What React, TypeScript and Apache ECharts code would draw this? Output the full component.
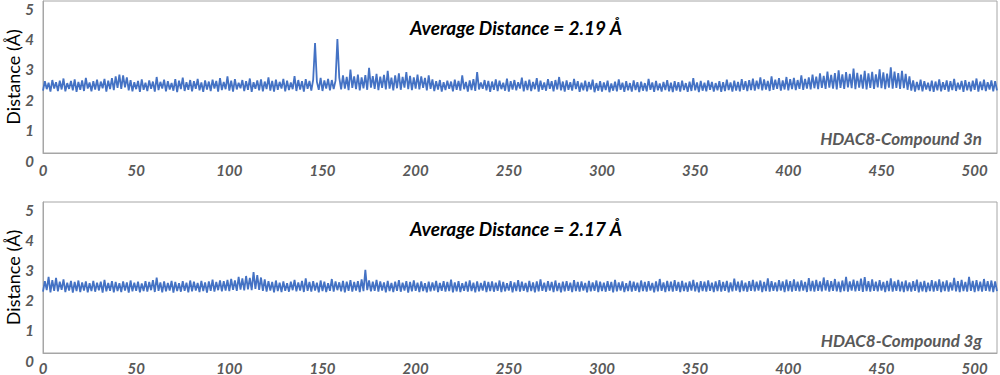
import React, { useEffect, useRef } from "react";
import * as echarts from "echarts";

// Time axis (ns) tick settings
const xTicks = [0, 50, 100, 150, 200, 250, 300, 350, 400, 450, 500];
const yTicks = [0, 1, 2, 3, 4, 5];

const panelTitles = ["Average Distance = 2.19 Å", "Average Distance = 2.17 Å"];
const panelLabels = ["HDAC8-Compound 3n", "HDAC8-Compound 3g"];

// HDAC8-Compound 3n distance (Å), one value per ns
const top000 = [2.05,2.36,2.10,2.31,2.02,2.40,2.12,2.33,2.04,2.38,2.09,2.45,2.03,2.30,2.11,2.37,2.06,2.42,2.01,2.34,
  2.08,2.39,2.04,2.47,2.12,2.32,2.03,2.36,2.09,2.41,2.05,2.35,2.13,2.44,2.02,2.38,2.10,2.46,2.07,2.52,
  2.14,2.58,2.11,2.55,2.16,2.49,2.06,2.40,2.03,2.33,2.10,2.37,2.01,2.42,2.08,2.31,2.04,2.39,2.11,2.35,
  2.02,2.50,2.07,2.34,2.12,2.41,2.03,2.36,2.09,2.30,2.05,2.43,2.00,2.38,2.10,2.48,2.04,2.33,2.08,2.40,
  2.03,2.36,2.11,2.44,2.06,2.32,2.01,2.39,2.09,2.35,2.04,2.41,2.12,2.37,2.02,2.46,2.07,2.34,2.10,2.52];
const top100 = [2.05,2.38,2.02,2.43,2.09,2.31,2.13,2.40,2.04,2.36,2.08,2.45,2.01,2.33,2.11,2.39,2.06,2.42,2.03,2.35,
  2.10,2.49,2.05,2.37,2.02,2.41,2.08,2.34,2.12,2.44,2.03,2.38,2.07,2.32,2.10,2.53,2.04,2.40,2.09,2.36,
  2.02,2.43,2.11,2.37,2.05,2.41,3.62,2.34,2.08,2.47,2.04,2.39,2.12,2.44,2.06,2.40,2.10,2.38,3.75,2.48,
  2.09,2.55,2.12,2.50,2.07,2.74,2.14,2.52,2.10,2.58,2.06,2.49,2.13,2.56,2.08,2.80,2.15,2.53,2.11,2.60,
  2.07,2.51,2.14,2.57,2.09,2.70,2.12,2.48,2.06,2.55,2.13,2.62,2.08,2.50,2.15,2.66,2.10,2.54,2.07,2.49];
const top200 = [2.12,2.58,2.09,2.52,2.14,2.47,2.06,2.55,2.11,2.42,2.04,2.36,2.09,2.40,2.02,2.33,2.07,2.38,2.11,2.35,
  2.03,2.41,2.08,2.37,2.05,2.55,2.10,2.34,2.02,2.39,2.07,2.43,2.04,2.66,2.09,2.32,2.11,2.40,2.06,2.37,
  2.01,2.35,2.08,2.42,2.04,2.38,2.10,2.31,2.05,2.45,2.02,2.36,2.09,2.40,2.06,2.33,2.12,2.48,2.03,2.37,
  2.07,2.41,2.04,2.34,2.10,2.46,2.02,2.38,2.08,2.32,2.05,2.43,2.11,2.36,2.03,2.40,2.09,2.50,2.06,2.35,
  2.02,2.39,2.08,2.33,2.05,2.44,2.10,2.36,2.01,2.31,2.06,2.38,2.03,2.34,2.09,2.41,2.00,2.30,2.05,2.36];
const top300 = [2.02,2.32,2.07,2.38,2.00,2.29,2.05,2.35,2.03,2.42,2.08,2.31,2.01,2.36,2.06,2.30,2.02,2.39,2.07,2.33,
  2.00,2.35,2.05,2.30,2.03,2.44,2.08,2.32,2.01,2.37,2.06,2.29,2.02,2.34,2.07,2.40,2.03,2.31,2.00,2.36,
  2.05,2.33,2.02,2.38,2.07,2.30,2.01,2.35,2.04,2.46,2.06,2.32,2.00,2.37,2.05,2.31,2.03,2.39,2.08,2.34,
  2.02,2.30,2.06,2.36,2.01,2.33,2.04,2.41,2.07,2.32,2.02,2.38,2.05,2.34,2.03,2.43,2.08,2.36,2.04,2.40,
  2.07,2.45,2.05,2.38,2.10,2.49,2.06,2.42,2.09,2.37,2.04,2.52,2.08,2.41,2.11,2.46,2.05,2.39,2.09,2.50];
const top400 = [2.06,2.43,2.10,2.47,2.07,2.40,2.11,2.55,2.08,2.44,2.12,2.49,2.09,2.58,2.13,2.51,2.10,2.62,2.14,2.54,
  2.11,2.68,2.15,2.57,2.12,2.63,2.09,2.72,2.14,2.59,2.11,2.66,2.16,2.60,2.13,2.78,2.10,2.64,2.15,2.58,
  2.12,2.70,2.09,2.62,2.14,2.67,2.11,2.59,2.16,2.75,2.13,2.65,2.10,2.61,2.15,2.82,2.12,2.68,2.14,2.63,
  2.11,2.70,2.13,2.60,2.08,2.52,2.05,2.39,2.02,2.34,2.07,2.41,2.03,2.36,2.09,2.31,2.04,2.38,2.01,2.35,
  2.06,2.42,2.03,2.33,2.08,2.39,2.02,2.36,2.07,2.44,2.04,2.31,2.09,2.37,2.01,2.40,2.06,2.34,2.03,2.38];
const top500 = [2.08,2.45,2.02,2.35,2.07,2.41,2.04,2.33,2.09,2.39,2.03,2.36,2.06];

// HDAC8-Compound 3g distance (Å), one value per ns
const bot000 = [2.03,2.38,2.08,2.52,2.01,2.41,2.06,2.49,2.04,2.36,2.09,2.44,2.02,2.33,2.07,2.39,2.00,2.35,2.05,2.40,
  2.02,2.34,2.07,2.37,2.01,2.31,2.05,2.39,2.03,2.33,2.08,2.36,2.00,2.42,2.04,2.32,2.06,2.38,2.01,2.35,
  2.05,2.31,2.02,2.37,2.07,2.34,2.00,2.40,2.04,2.33,2.06,2.36,2.01,2.30,2.05,2.38,2.03,2.35,2.08,2.41,
  2.02,2.50,2.06,2.34,2.01,2.37,2.04,2.32,2.07,2.39,2.00,2.35,2.05,2.31,2.03,2.38,2.06,2.33,2.01,2.40,
  2.04,2.36,2.07,2.32,2.02,2.39,2.05,2.34,2.00,2.37,2.06,2.43,2.03,2.35,2.08,2.40,2.04,2.38,2.07,2.42];
const bot100 = [2.05,2.45,2.09,2.40,2.06,2.52,2.10,2.47,2.07,2.55,2.11,2.49,2.08,2.68,2.12,2.58,2.09,2.50,2.06,2.44,
  2.03,2.38,2.07,2.35,2.01,2.40,2.05,2.33,2.02,2.37,2.06,2.31,2.03,2.36,2.08,2.42,2.04,2.34,2.07,2.39,
  2.02,2.47,2.06,2.35,2.03,2.38,2.07,2.33,2.01,2.40,2.05,2.36,2.02,2.31,2.06,2.45,2.03,2.37,2.08,2.34,
  2.04,2.39,2.01,2.36,2.06,2.41,2.03,2.35,2.07,2.38,2.02,2.44,2.05,2.75,2.08,2.40,2.04,2.36,2.06,2.42,
  2.03,2.37,2.07,2.34,2.01,2.39,2.05,2.32,2.02,2.36,2.06,2.41,2.03,2.33,2.07,2.38,2.00,2.35,2.04,2.40];
const bot200 = [2.06,2.33,2.02,2.37,2.05,2.31,2.01,2.36,2.04,2.34,2.07,2.39,2.02,2.32,2.06,2.38,2.03,2.35,2.05,2.43,
  2.01,2.34,2.04,2.38,2.02,2.31,2.06,2.36,2.03,2.40,2.05,2.33,2.01,2.37,2.04,2.32,2.07,2.39,2.02,2.35,
  2.05,2.37,2.03,2.33,2.06,2.40,2.02,2.35,2.04,2.31,2.07,2.38,2.01,2.34,2.05,2.41,2.03,2.36,2.06,2.32,
  2.02,2.39,2.05,2.34,2.01,2.37,2.04,2.44,2.06,2.33,2.03,2.38,2.07,2.35,2.02,2.40,2.05,2.32,2.01,2.36,
  2.04,2.38,2.06,2.33,2.02,2.41,2.05,2.35,2.03,2.37,2.07,2.32,2.01,2.39,2.04,2.34,2.06,2.40,2.02,2.36];
const bot300 = [2.05,2.33,2.03,2.38,2.06,2.35,2.01,2.42,2.04,2.34,2.07,2.37,2.02,2.31,2.05,2.39,2.03,2.36,2.06,2.33,
  2.02,2.40,2.05,2.35,2.03,2.38,2.07,2.32,2.01,2.37,2.04,2.45,2.06,2.34,2.02,2.39,2.05,2.36,2.03,2.41,
  2.06,2.35,2.02,2.39,2.05,2.33,2.03,2.37,2.07,2.42,2.04,2.34,2.01,2.38,2.05,2.36,2.03,2.40,2.06,2.33,
  2.02,2.37,2.05,2.41,2.03,2.35,2.06,2.39,2.01,2.34,2.04,2.46,2.07,2.36,2.02,2.40,2.05,2.33,2.03,2.38,
  2.06,2.42,2.04,2.36,2.07,2.40,2.02,2.35,2.05,2.47,2.03,2.38,2.06,2.34,2.04,2.41,2.07,2.37,2.02,2.43];
const bot400 = [2.05,2.38,2.03,2.44,2.06,2.36,2.04,2.40,2.07,2.35,2.02,2.48,2.05,2.39,2.03,2.42,2.06,2.37,2.04,2.50,
  2.07,2.41,2.03,2.38,2.06,2.45,2.04,2.36,2.02,2.40,2.05,2.52,2.03,2.37,2.07,2.43,2.04,2.39,2.06,2.46,
  2.02,2.51,2.05,2.38,2.03,2.44,2.06,2.36,2.04,2.41,2.07,2.35,2.02,2.39,2.05,2.47,2.03,2.37,2.06,2.42,
  2.04,2.36,2.02,2.40,2.05,2.34,2.03,2.38,2.06,2.43,2.01,2.35,2.04,2.39,2.02,2.33,2.05,2.41,2.03,2.37,
  2.06,2.44,2.02,2.36,2.05,2.40,2.03,2.34,2.07,2.49,2.04,2.38,2.02,2.42,2.05,2.35,2.03,2.52,2.06,2.39];
const bot500 = [2.02,2.41,2.05,2.36,2.03,2.45,2.06,2.38,2.04,2.40,2.02,2.37,2.05];

const topValues = [...top000, ...top100, ...top200, ...top300, ...top400, ...top500];
const botValues = [...bot000, ...bot100, ...bot200, ...bot300, ...bot400, ...bot500];

const FONT = "Lato, 'Open Sans', sans-serif";
const GREY = "#595959";
const LINE = "#4472C4";

export default function App() {
  const ref = useRef<HTMLDivElement>(null);

  useEffect(() => {
    if (!ref.current) return;
    const chart = echarts.init(ref.current, undefined, { renderer: "svg" });

    const grids = [
      { left: 43, top: 1, width: 954, height: 152 },
      { left: 43, top: 202, width: 954, height: 151 },
    ];
    const xMargins = [9, 7];

    const xAxisFor = (gi: number) => ({
      type: "value",
      gridIndex: gi,
      min: xTicks[0],
      max: 512,
      interval: 50,
      axisLine: { show: true, lineStyle: { color: "#a6a6a6", width: 1 } },
      axisTick: { show: false },
      splitLine: { show: false },
      axisLabel: {
        margin: xMargins[gi],
        showMaxLabel: false,
        fontFamily: FONT,
        fontSize: 15,
        lineHeight: 15,
        fontStyle: "italic",
        fontWeight: "bold",
        color: GREY,
        formatter: (v: number) => (xTicks.includes(v) ? String(v) : ""),
      },
    });

    const yAxisFor = (gi: number) => ({
      type: "value",
      gridIndex: gi,
      min: yTicks[0],
      max: yTicks[yTicks.length - 1],
      interval: 1,
      name: "Distance (Å)",
      nameLocation: "middle",
      nameGap: 20,
      nameMoveOverlap: false,
      nameTextStyle: {
        fontFamily: FONT,
        fontSize: 18,
        lineHeight: 20,
        color: "#000",
        fontWeight: "normal",
      },
      axisLine: { show: true, lineStyle: { color: "#a6a6a6", width: 1 } },
      axisTick: { show: false },
      splitLine: { show: false },
      axisLabel: {
        margin: 9,
        verticalAlign: "top",
        fontFamily: FONT,
        fontSize: 15,
        lineHeight: 15,
        fontStyle: "italic",
        fontWeight: "bold",
        color: GREY,
      },
    });

    const titleY = [27, 228];
    const labelY = [138, 340];

    const graphics: any[] = [];
    for (let i = 0; i < 2; i++) {
      graphics.push({
        type: "text",
        x: 516,
        y: titleY[i],
        style: {
          text: panelTitles[i],
          fontFamily: FONT,
          fontSize: 19,
          fontStyle: "italic",
          fontWeight: "bold",
          fill: "#000",
          align: "center",
          verticalAlign: "middle",
        },
      });
      graphics.push({
        type: "text",
        x: 982,
        y: labelY[i],
        style: {
          text: panelLabels[i],
          fontFamily: FONT,
          fontSize: 17,
          fontStyle: "italic",
          fontWeight: "bold",
          fill: GREY,
          align: "right",
          verticalAlign: "middle",
        },
      });
    }

    chart.setOption({
      animation: false,
      backgroundColor: "#fff",
      grid: grids.map((g) => ({
        ...g,
        show: true,
        borderColor: "#a6a6a6",
        borderWidth: 1,
        containLabel: false,
        outerBoundsMode: "none",
      })),
      xAxis: [xAxisFor(0), xAxisFor(1)],
      yAxis: [yAxisFor(0), yAxisFor(1)],
      series: [
        {
          type: "line",
          xAxisIndex: 0,
          yAxisIndex: 0,
          data: topValues.map((v, i) => [i, v]),
          showSymbol: false,
          symbol: "none",
          lineStyle: { color: LINE, width: 1.8 },
        },
        {
          type: "line",
          xAxisIndex: 1,
          yAxisIndex: 1,
          data: botValues.map((v, i) => [i, v]),
          showSymbol: false,
          symbol: "none",
          lineStyle: { color: LINE, width: 1.8 },
        },
      ],
      graphic: graphics,
    });

    return () => chart.dispose();
  }, []);

  return (
    <div
      ref={ref}
      style={{ position: "absolute", left: 0, top: 0, width: 1000, height: 375 }}
    />
  );
}
